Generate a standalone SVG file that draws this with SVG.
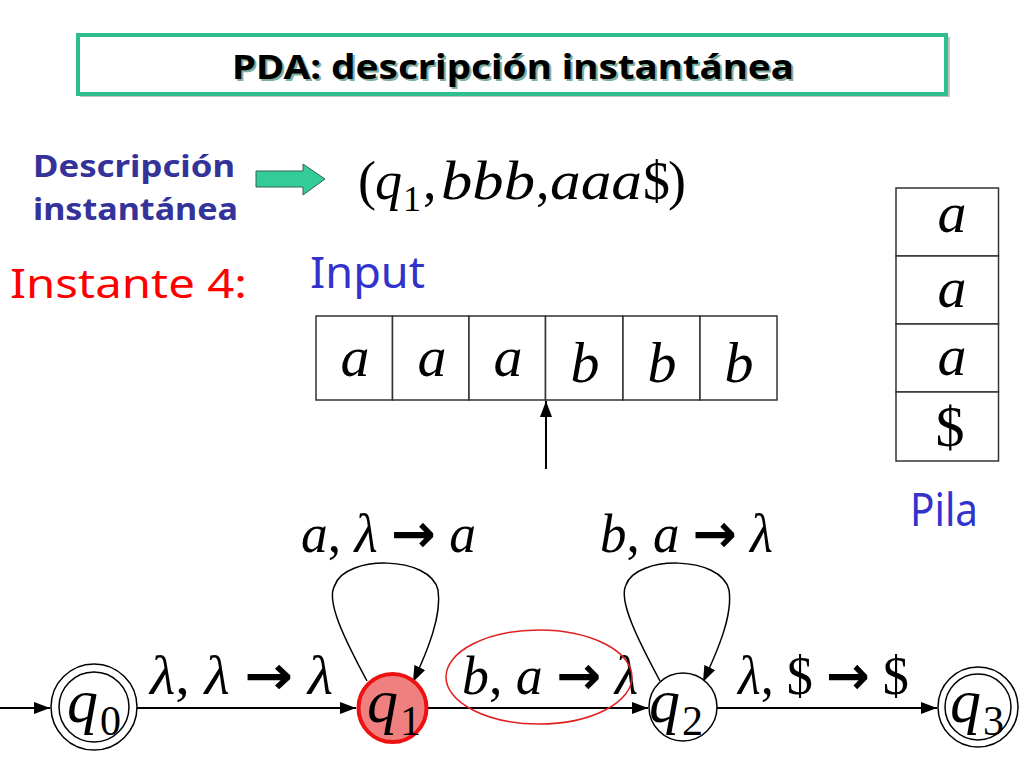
<svg xmlns="http://www.w3.org/2000/svg" width="1024" height="768" viewBox="0 0 1024 768">
<style>
.m{font-family:"Liberation Serif","Times New Roman",serif;fill:#000}
.i{font-style:italic}
.ar{font-family:"DejaVu Sans",sans-serif;font-style:normal;font-weight:bold}
.cs{font-family:"Noto Sans","DejaVu Sans",sans-serif}
.edge{fill:none;stroke:#000;stroke-width:2}
.loop{fill:none;stroke:#000;stroke-width:1.5}
.node{fill:#fff;stroke:#000;stroke-width:1.5}
.cell{fill:#fff;stroke:#333;stroke-width:1.5}
</style>
<defs>
<marker id="ah" viewBox="0 0 16 12" refX="16" refY="6" markerWidth="16" markerHeight="12" markerUnits="userSpaceOnUse" orient="auto">
<path d="M0,0 L16,6 L0,12 z" fill="#000"/>
</marker>
</defs>
<rect width="1024" height="768" fill="#fff"/>

<g id="title">
<rect x="80" y="37" width="870" height="60" fill="#888" opacity="0.5"/>
<rect x="78" y="35" width="868" height="59" fill="#fff" stroke="#2fbf8f" stroke-width="4"/>
<text x="515" y="81" text-anchor="middle" class="cs" font-size="34" font-weight="bold" fill="#7fae9c" textLength="562" lengthAdjust="spacingAndGlyphs">PDA: descripción instantánea</text>
<text x="513" y="79" text-anchor="middle" class="cs" font-size="34" font-weight="bold" fill="#000" textLength="562" lengthAdjust="spacingAndGlyphs">PDA: descripción instantánea</text>
</g>

<g id="desc-label">
<text x="33" y="177" class="cs" font-size="30" font-weight="bold" fill="#333399" textLength="202" lengthAdjust="spacingAndGlyphs">Descripción</text>
<text x="33" y="220" class="cs" font-size="30" font-weight="bold" fill="#333399" textLength="205" lengthAdjust="spacingAndGlyphs">instantánea</text>
</g>

<g id="green-arrow">
<path d="M256,171 L303,171 L303,164 L325,179 L303,195 L303,187 L256,187 z" fill="#33cc99" stroke="#336655" stroke-width="1"/>
</g>

<g id="formula">
<text class="m" font-size="54" y="199"><tspan x="358">(</tspan><tspan x="375" class="i">q</tspan><tspan x="403" y="211" font-size="36">1</tspan><tspan x="423" y="199">,</tspan><tspan x="441" class="i" textLength="94" lengthAdjust="spacingAndGlyphs">bbb</tspan><tspan x="536">,</tspan><tspan x="550" class="i" textLength="92" lengthAdjust="spacingAndGlyphs">aaa</tspan><tspan x="643">$</tspan><tspan x="668">)</tspan></text>
</g>

<g id="instante">
<text x="10" y="298" class="cs" font-size="40" fill="#ff0000" textLength="237" lengthAdjust="spacingAndGlyphs">Instante 4:</text>
</g>

<g id="input-label">
<text x="310" y="288" class="cs" font-size="43" fill="#3333cc" textLength="115" lengthAdjust="spacingAndGlyphs">Input</text>
</g>

<g id="tape">
<rect class="cell" x="316" y="316" width="76.5" height="84"/>
<rect class="cell" x="392.5" y="316" width="76.5" height="84"/>
<rect class="cell" x="469" y="316" width="76.5" height="84"/>
<rect class="cell" x="545.5" y="316" width="77.5" height="84"/>
<rect class="cell" x="623" y="316" width="77" height="84"/>
<rect class="cell" x="700" y="316" width="77" height="84"/>
<g class="m i" font-size="58" text-anchor="middle">
<text x="355" y="376">a</text>
<text x="432" y="376">a</text>
<text x="508" y="376">a</text>
<text x="585" y="382">b</text>
<text x="662" y="382">b</text>
<text x="739" y="382">b</text>
</g>
</g>

<g id="stack">
<rect class="cell" x="896" y="188" width="102.5" height="68"/>
<rect class="cell" x="896" y="256" width="102.5" height="68"/>
<rect class="cell" x="896" y="324" width="102.5" height="68"/>
<rect class="cell" x="896" y="392" width="102.5" height="69"/>
<g class="m" font-size="58" text-anchor="middle">
<text x="952" y="232" class="i">a</text>
<text x="952" y="307" class="i">a</text>
<text x="952" y="375" class="i">a</text>
<text x="950" y="446">$</text>
</g>
</g>

<g id="pila-label">
<text x="910" y="526" class="cs" font-size="45" fill="#3333cc" textLength="68" lengthAdjust="spacingAndGlyphs">Pila</text>
</g>

<g id="connectors">
<line class="edge" x1="546" y1="469" x2="546" y2="401" marker-end="url(#ah)"/>
<line class="edge" x1="0" y1="708" x2="50" y2="708" marker-end="url(#ah)"/>
<line class="edge" x1="137" y1="708" x2="356" y2="708" marker-end="url(#ah)"/>
<line class="edge" x1="428" y1="708" x2="648" y2="708" marker-end="url(#ah)"/>
<line class="edge" x1="717" y1="708" x2="937" y2="708" marker-end="url(#ah)"/>
<path class="loop" d="M367,681 C345,640 325,600 335,585 C345,555 430,555 438,590 C442,615 428,650 413,682" marker-end="url(#ah)"/>
<path class="loop" d="M660,681 C638,640 618,600 626,585 C636,555 721,555 729,590 C733,615 718,650 703,682" marker-end="url(#ah)"/>
</g>

<g id="edge-labels" class="m" font-size="54">
<text x="150" y="694" textLength="183" lengthAdjust="spacingAndGlyphs"><tspan class="i">λ</tspan>, <tspan class="i">λ</tspan> <tspan class="ar">→</tspan> <tspan class="i">λ</tspan></text>
<text x="462" y="694" textLength="176" lengthAdjust="spacingAndGlyphs"><tspan class="i">b</tspan>, <tspan class="i">a</tspan> <tspan class="ar">→</tspan> <tspan class="i">λ</tspan></text>
<text x="738" y="694" textLength="171" lengthAdjust="spacingAndGlyphs"><tspan class="i">λ</tspan>, $ <tspan class="ar">→</tspan> $</text>
<text x="301" y="552" textLength="175" lengthAdjust="spacingAndGlyphs"><tspan class="i">a</tspan>, <tspan class="i">λ</tspan> <tspan class="ar">→</tspan> <tspan class="i">a</tspan></text>
<text x="600" y="552" textLength="173" lengthAdjust="spacingAndGlyphs"><tspan class="i">b</tspan>, <tspan class="i">a</tspan> <tspan class="ar">→</tspan> <tspan class="i">λ</tspan></text>
</g>

<g id="highlight">
<ellipse cx="539" cy="677" rx="93" ry="47" fill="none" stroke="#e02020" stroke-width="1.5"/>
</g>

<g id="q0">
<circle class="node" cx="94" cy="707" r="43"/>
<circle class="node" cx="94" cy="707" r="35"/>
<text class="m" y="722" font-size="62"><tspan x="67" class="i">q</tspan><tspan x="100" y="735" font-size="42">0</tspan></text>
</g>
<g id="q1">
<circle cx="392.5" cy="708" r="34" fill="#f08080" stroke="#ee1111" stroke-width="4"/>
<text class="m" y="722" font-size="62"><tspan x="367" class="i">q</tspan><tspan x="400" y="735" font-size="42">1</tspan></text>
</g>
<g id="q2">
<circle class="node" cx="683" cy="707" r="34"/>
<text class="m" y="722" font-size="62"><tspan x="649" class="i">q</tspan><tspan x="682" y="735" font-size="42">2</tspan></text>
</g>
<g id="q3">
<circle class="node" cx="978" cy="707" r="40"/>
<circle class="node" cx="978" cy="707" r="33"/>
<text class="m" y="722" font-size="62"><tspan x="950" class="i">q</tspan><tspan x="983" y="735" font-size="42">3</tspan></text>
</g>
</svg>
